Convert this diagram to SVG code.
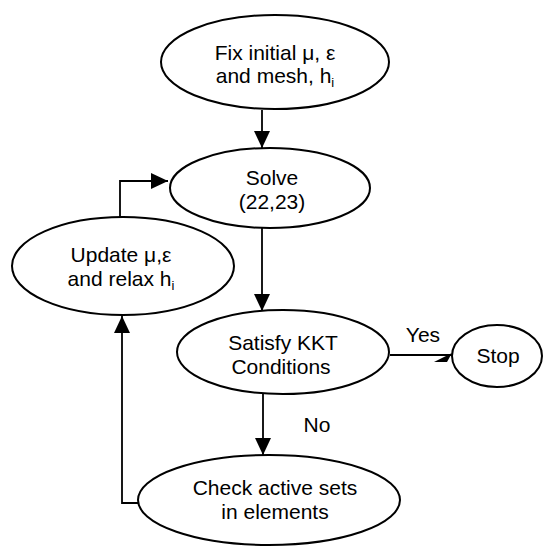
<svg xmlns="http://www.w3.org/2000/svg" width="544" height="547" viewBox="0 0 544 547">
<defs>
<style>
.n{fill:#fff;stroke:#000;stroke-width:2}
.t{font-family:"Liberation Sans",Arial,sans-serif;font-size:21px;fill:#000;text-anchor:middle}
.c{fill:none;stroke:#000;stroke-width:1.8}
.s{font-size:13px}
</style>
<marker id="a" markerWidth="17" markerHeight="16" viewBox="0 0 17 16" refX="17" refY="8" orient="auto" markerUnits="userSpaceOnUse">
<path d="M0,0 L17,8 L0,16 z" fill="#000"/>
</marker>
</defs>
<rect width="544" height="547" fill="#fff"/>
<g id="fix">
<ellipse class="n" cx="275" cy="62" rx="114" ry="47"/>
<text class="t" x="275" y="60">Fix initial μ, ε</text>
<text class="t" x="275" y="83">and mesh, h<tspan class="s" dy="4">i</tspan></text>
</g>
<g id="solve">
<ellipse class="n" cx="270" cy="188" rx="100" ry="40"/>
<text class="t" x="272" y="185">Solve</text>
<text class="t" x="272" y="209">(22,23)</text>
</g>
<g id="update">
<ellipse class="n" cx="123" cy="266" rx="111" ry="49"/>
<text class="t" x="121" y="262">Update μ,ε</text>
<text class="t" x="121" y="286">and relax h<tspan class="s" dy="4">i</tspan></text>
</g>
<g id="satisfy">
<ellipse class="n" cx="283" cy="352" rx="106" ry="42"/>
<text class="t" x="283" y="350">Satisfy KKT</text>
<text class="t" x="281" y="374">Conditions</text>
</g>
<g id="stop">
<ellipse class="n" cx="497" cy="356" rx="45" ry="31"/>
<text class="t" x="498" y="363">Stop</text>
</g>
<g id="check">
<ellipse class="n" cx="269" cy="500" rx="131" ry="45"/>
<text class="t" x="275" y="495">Check active sets</text>
<text class="t" x="275" y="519">in elements</text>
</g>
<g id="connectors">
<path class="c" d="M262,110 V148" marker-end="url(#a)"/>
<path class="c" d="M262,228 V311" marker-end="url(#a)"/>
<path class="c" d="M390,355 H452"/>
<polygon points="434,362 452,353 447,362" fill="#000"/>
<path class="c" d="M263,394 V455" marker-end="url(#a)"/>
<path class="c" d="M139,503 H122 V316" marker-end="url(#a)"/>
<path class="c" d="M120,217 V181 H168" marker-end="url(#a)"/>
<text class="t" x="423" y="342">Yes</text>
<text class="t" x="317" y="432">No</text>
</g>
</svg>
